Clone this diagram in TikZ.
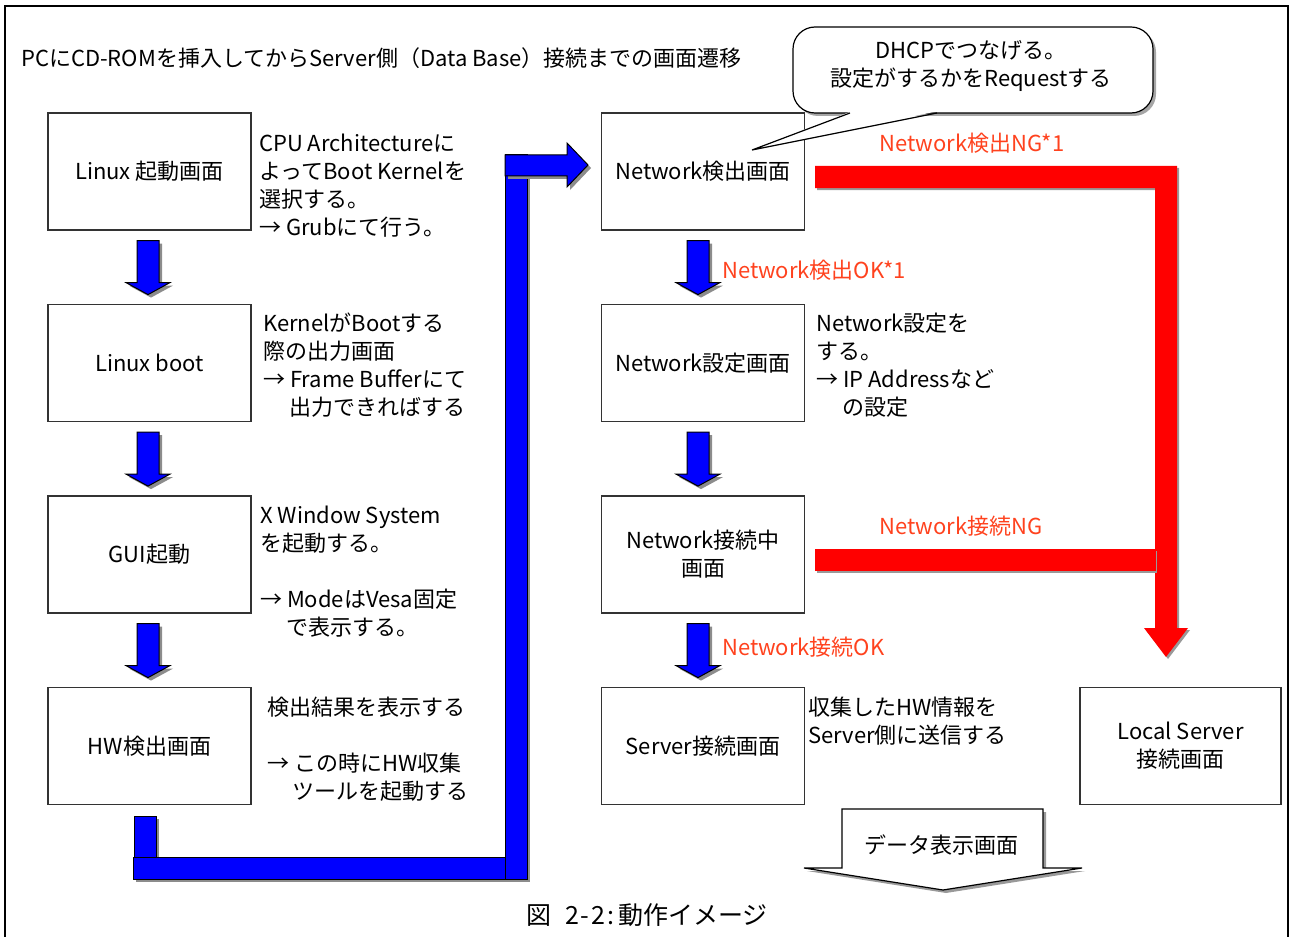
\documentclass[tikz,border=0pt]{standalone}
\usepackage{fontspec}
\setmainfont{Noto Sans CJK JP}
\usetikzlibrary{calc}
\definecolor{ngred}{RGB}{255,0,0}
\definecolor{lblred}{RGB}{255,66,30}
\definecolor{arrblue}{RGB}{0,0,255}
\newcommand\fsz{\fontsize{22}{28}\selectfont}
\tikzset{
  box/.style={draw=black!80, line width=1.2pt, fill=white, minimum width=203pt, minimum height=117pt, inner sep=0pt, align=center, font=\fsz},
  note/.style={anchor=north west, inner sep=0pt, align=left, font=\fsz},
  lbl/.style={text=lblred, inner sep=0pt, font=\fsz},
  bluepoly/.style={fill=arrblue, draw=black, line width=1pt, line join=miter},
  shadowpoly/.style={fill=black!45, draw=none},
  redpoly/.style={fill=ngred, draw=none},
  callout/.style={draw=black, line width=1.2pt, fill=white},
}
\newcommand\bluedown[1]{\begin{scope}[shift={(#1)}]
  \fill[shadowpoly] (-8,3) -- (14,3) -- (14,45) -- (25,45) -- (3,57) -- (-19,45) -- (-8,45) -- cycle;
  \filldraw[bluepoly] (-11,0) -- (11,0) -- (11,42) -- (22,42) -- (0,54) -- (-22,42) -- (-11,42) -- cycle;
\end{scope}}
\begin{document}
\begin{tikzpicture}[x=1pt,y=-1pt]
\useasboundingbox (0,0) rectangle (1289,936);
% frame
\draw[line width=2pt] (5,940) -- (5,6) -- (1288,6) -- (1288,940);
% title
\node[anchor=west, inner sep=0pt, font=\fsz] (title) at (21,58) {PCにCD-ROMを挿入してからServer側（Data Base）接続までの画面遷移};
% left column boxes
\node[box] (b1) at (149.5,171.5) {Linux 起動画面};
\node[box] (b2) at (149.5,363) {Linux boot};
\node[box] (b3) at (149.5,554.5) {GUI起動};
\node[box] (b4) at (149.5,746) {HW検出画面};
% right column boxes
\node[box] (n1) at (703,171.5) {Network検出画面};
\node[box] (n2) at (703,363) {Network設定画面};
\node[box] (n3) at (703,554.5) {Network接続中\\画面};
\node[box] (n4) at (703,746) {Server接続画面};
\node[box, minimum width=201pt] (ls) at (1180.5,746) {Local Server\\接続画面};
% notes
\node[note] (t1) at (259,132) {\strut CPU Architectureに\\よってBoot Kernelを\\選択する。\\→ Grubにて行う。};
\node[note] (t2) at (263,312) {\strut KernelがBootする\\際の出力画面\\→ Frame Bufferにて\\\hspace*{26pt}出力できればする};
\node[note] (t3) at (260,504) {\strut X Window System\\を起動する。\\\strut\\→ ModeはVesa固定\\\hspace*{26pt}で表示する。};
\node[note] (t4) at (267,696) {\strut 検出結果を表示する\\\strut\\→ この時にHW収集\\\hspace*{25pt}ツールを起動する};
\node[note] (t5) at (816,312) {\strut Network設定を\\する。\\→ IP Addressなど\\\hspace*{26pt}の設定};
\node[note] (t6) at (808,696) {\strut 収集したHW情報を\\Server側に送信する};
% blue down arrows
\path ($(b1.south)+(-1.5,10)$) coordinate (d1)
      ($(b2.south)+(-1.5,10)$) coordinate (d2)
      ($(b3.south)+(-1.5,10)$) coordinate (d3)
      ($(n1.south)+(-5,10)$) coordinate (d4)
      ($(n2.south)+(-5,10)$) coordinate (d5)
      ($(n3.south)+(-5,10)$) coordinate (d6);
\bluedown{d1}\bluedown{d2}\bluedown{d3}\bluedown{d4}\bluedown{d5}\bluedown{d6}
% blue L connector from b4 to n1
\fill[shadowpoly] (137,819) rectangle (159,860);
\filldraw[bluepoly] (134,816) rectangle (156,857);
\fill[shadowpoly] (136,860) rectangle (530,882);
\filldraw[bluepoly] (133,857) rectangle (527,879);
\fill[shadowpoly] (508,158) rectangle (530,882);
\filldraw[bluepoly] (505,155) rectangle (527,879);
\fill[shadowpoly] (508,158) -- (570,158) -- (570,146) -- (591,168) -- (570,190) -- (570,179) -- (508,179) -- cycle;
\filldraw[bluepoly] (505,155) -- (567,155) -- (567,143) -- (588,165) -- (567,187) -- (567,176) -- (505,176) -- cycle;
% red connectors
\fill[black!40] (817,168) -- (1179,168) -- (1179,630) -- (1190,630) -- (1168,659) -- (1146,630) -- (1157,630) -- (1157,190) -- (817,190) -- cycle;
\fill[redpoly] (815,166) -- (1177,166) -- (1177,628) -- (1188,628) -- (1166,657) -- (1144,628) -- (1155,628) -- (1155,188) -- (815,188) -- cycle;
\fill[black!40] (817,551) rectangle (1157,573);
\fill[redpoly] (815,549) rectangle (1156,571);
% red labels
\node[lbl] (l1) at (972,143) {Network検出NG*1};
\node[lbl, anchor=west] (l2) at (722,270) {Network検出OK*1};
\node[lbl] (l3) at (961,526) {Network接続NG};
\node[lbl, anchor=west] (l4) at (722,647) {Network接続OK};
% callout
\fill[black!35, rounded corners=22pt] (796,30) rectangle (1156,116);
\draw[callout, rounded corners=22pt] (793,27) rectangle (1153,113);
\fill[white] (851,111.5) -- (936,111.5) -- (752,150) -- cycle;
\draw[line width=1.2pt] (850,113) -- (752,150) -- (937,113);
\node[align=center, inner sep=0pt, font=\fsz] (co) at (971,66) {DHCPでつなげる。\\設定がするかをRequestする};
% bottom data arrow
\fill[black!40] (845,812) -- (1046,812) -- (1046,871) -- (1085,871) -- (946,893) -- (807,871) -- (845,871) -- cycle;
\draw[fill=white, line width=1.2pt] (842,809) -- (1043,809) -- (1043,868) -- (1082,868) -- (943,890) -- (804,868) -- (842,868) -- cycle;
\node[inner sep=0pt, font=\fsz] (data) at (941,845) {データ表示画面};
% caption
\node[inner sep=0pt, font=\fontsize{25}{28}\selectfont] (cap) at (647,915) {図\hspace{14pt}2\kern2pt-\kern2pt2\kern2pt:\kern4pt動作イメージ};
\end{tikzpicture}
\end{document}
